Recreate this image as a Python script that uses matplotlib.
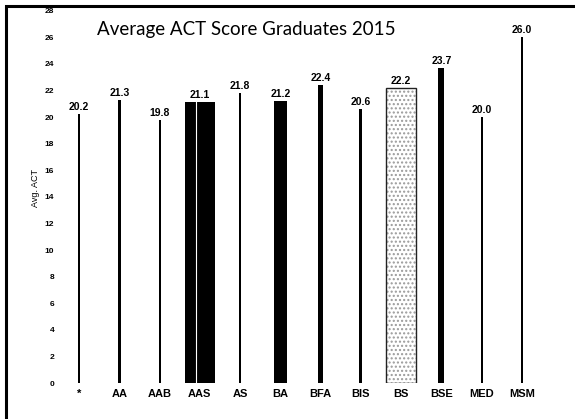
import numpy as np
import matplotlib
matplotlib.use('Agg')
import matplotlib.pyplot as plt
from matplotlib.patches import Rectangle

# data
degrees = ['*', 'AA', 'AAB', 'AAS', 'AS', 'BA', 'BFA', 'BIS', 'BS', 'BSE', 'MED', 'MSM']
avg_act = [20.2, 21.3, 19.8, 21.1, 21.8, 21.2, 22.4, 20.6, 22.2, 23.7, 20.0, 26.0]

# bar widths vary with the (hidden) number of graduates
bar_widths = [0.05, 0.075, 0.05, 0.74, 0.05, 0.32, 0.12, 0.07, 0.74, 0.15, 0.05, 0.05]
stippled = 'BS'
split = 'AAS'

W, H = 575, 419
fig = plt.figure(figsize=(W/100, H/100), dpi=100)
fig.patch.set_facecolor('white')

# outer frame (left and top edges visible)
fig.patches.append(Rectangle((5.5/W, -0.05), 1.2, 1 - 6.5/H + 0.05,
                             transform=fig.transFigure, fill=False,
                             edgecolor='black', linewidth=2.2))

ax = fig.add_axes([59/W, (H-383)/H, 483/W, 372.4/H])
x = np.arange(len(degrees))

for i, (d, v, w) in enumerate(zip(degrees, avg_act, bar_widths)):
    if d == stippled:
        ax.bar(i, v, w, color='white', edgecolor='#9a9a9a', hatch='....', linewidth=0)
        ax.bar(i, v, w, fill=False, edgecolor='#222222', linewidth=1.0)
    else:
        ax.bar(i, v, w, color='black', linewidth=0)
    if d == split:
        ax.plot([i - 0.1, i - 0.1], [0, v], color='white', lw=0.8)
    ax.annotate(f'{v:.1f}', (i, v), xytext=(0, 1.5), textcoords='offset points',
                ha='center', va='bottom', fontsize=7.5, fontweight='bold',
                family='Liberation Sans')

ax.set_xlim(-0.5, len(degrees) - 0.5)
ax.set_ylim(0, 28)
ax.set_yticks(np.arange(0, 29, 2))
ax.set_xticks(x)
ax.set_xticklabels(degrees)
for s in ax.spines.values():
    s.set_visible(False)
ax.tick_params(axis='both', length=0)
ax.tick_params(axis='x', pad=4.5)
ax.tick_params(axis='y', pad=3.5)
for lab in ax.get_xticklabels():
    lab.set_fontsize(8)
    lab.set_fontweight('bold')
    lab.set_family('Liberation Sans')
for lab in ax.get_yticklabels():
    lab.set_fontsize(6)
    lab.set_fontweight('bold')
    lab.set_family('Liberation Sans')

ax.set_ylabel('Avg. ACT', fontsize=6.5, family='Liberation Sans')
ax.yaxis.set_label_coords(-0.039, 0.524)

fig.text(246/W, 1 - 30/H, 'Average ACT Score Graduates 2015', ha='center', va='center',
         fontsize=13.5, family='Lato')

fig.savefig('out.png', dpi=100, facecolor='white')
